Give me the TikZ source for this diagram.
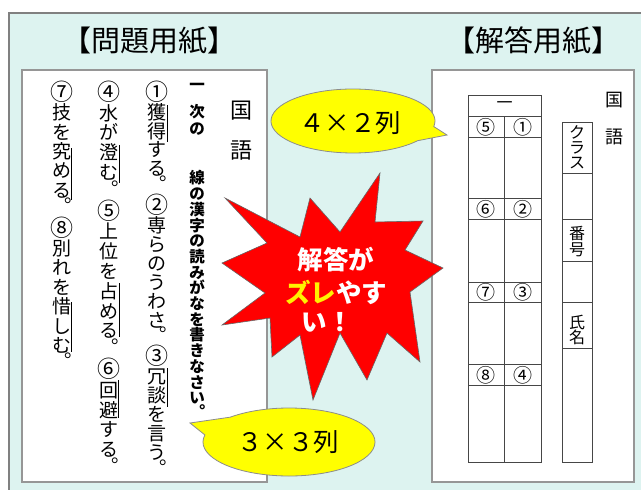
\documentclass[tikz,border=0pt]{standalone}
\usepackage{fontspec}
\setmainfont{Noto Sans CJK JP}
\definecolor{bgc}{RGB}{221,243,240}
\definecolor{framec}{RGB}{128,128,128}
\definecolor{paperc}{RGB}{150,150,150}
\definecolor{gridc}{RGB}{70,70,70}
\definecolor{starred}{RGB}{255,0,0}
\definecolor{calloutc}{RGB}{255,255,0}
\newcommand\cn[1]{{\fontsize{23}{23}\selectfont #1}}
\newcommand\vertcol[6]{%
  \foreach \c [count=\i from 0] in {#6}{%
    \def\tmpk{。}%
    \ifx\c\tmpk
      \node[#5,kuten#5] (#1\i) at (#2,{#3+\i*#4}) {\c};
    \else
      \node[#5] (#1\i) at (#2,{#3+\i*#4}) {\c};
    \fi}}
\begin{document}
\begin{tikzpicture}[x=1pt,y=-1pt,
  jaA/.style={inner sep=0pt,anchor=base,yshift=-7.2pt,font=\fontsize{19}{20}\selectfont},
  kutenjaA/.style={xshift=12pt,yshift=14pt},
  jaB/.style={inner sep=0pt,anchor=base,yshift=-5.9pt,font=\fontsize{15.5}{16}\selectfont\bfseries},
  kutenjaB/.style={xshift=10pt,yshift=11pt},
  jaC/.style={inner sep=0pt,anchor=base,yshift=-6pt,font=\fontsize{16}{17}\selectfont},
  kutenjaC/.style={},
  title/.style={inner sep=0pt,font=\fontsize{29}{30}\selectfont},
  kokugo/.style={inner sep=0pt,anchor=base,yshift=-8.4pt,font=\fontsize{22}{24}\selectfont},
  kokugoR/.style={inner sep=0pt,anchor=base,yshift=-6.8pt,font=\fontsize{18}{19}\selectfont},
  paper/.style={fill=white,draw=paperc,line width=1.2pt},
  gridline/.style={draw=gridc,line width=0.8pt},
  sideline/.style={draw=black,line width=0.8pt},
  callout/.style={fill=calloutc,draw=black!45,line width=0.8pt},
  calltext/.style={inner sep=0pt,font=\fontsize{25.5}{27}\selectfont},
  startext/.style={inner sep=0pt,font=\fontsize{25.5}{27}\selectfont\bfseries,text=white},
  num/.style={inner sep=0pt,font=\fontsize{19}{20}\selectfont},
  head/.style={inner sep=0pt,font=\fontsize{16}{17}\selectfont}]
\useasboundingbox (0,0) rectangle (641,490);
\clip (0,0) rectangle (641,490);
% background frame
\fill[bgc] (9,13) rectangle (660,500);
\draw[framec,line width=1.6pt] (9,500) -- (9,13) -- (660,13);
% titles
\node[title] (t1) at (150,41) {【問題用紙】};
\node[title] (t2) at (533,41) {【解答用紙】};
% left paper
\draw[paper] (22,70) rectangle (267,482);
\node[kokugo] (k1) at (241,110) {国};
\node[kokugo] (k2) at (241,150) {語};
\node[jaB] (q0a) at (197,85) {一};
\node[jaB] (q0b) at (197,112) {次};
\node[jaB] (q0c) at (197,129) {の};
\vertcol{q0-}{197}{178}{15.7}{jaB}{線,の,漢,字,の,読,み,が,な,を,書,き,な,さ,い,。}
\vertcol{q1-}{157}{93}{18.9}{jaA}{\cn{①},獲,得,す,る,。,\cn{②},専,ら,の,う,わ,さ,。,\cn{③},冗,談,を,言,う,。}
\vertcol{q2-}{109}{93}{19.8}{jaA}{\cn{④},水,が,澄,む,。,\cn{⑤},上,位,を,占,め,る,。,\cn{⑥},回,避,す,る,。}
\vertcol{q3-}{62}{93}{19.4}{jaA}{\cn{⑦},技,を,究,め,る,。,\cn{⑧},別,れ,を,惜,し,む,。}
% side lines
\draw[sideline] (167.5,105) -- (167.5,142);
\draw[sideline] (167.5,368) -- (167.5,407);
\draw[sideline] (119.5,145) -- (119.5,183);
\draw[sideline] (119.5,283) -- (119.5,337);
\draw[sideline] (118.5,380) -- (118.5,418);
\draw[sideline] (71,148) -- (71,200);
\draw[sideline] (71,302) -- (71,352);
% right paper
\draw[paper] (432,70) rectangle (634,482);
\node[kokugoR] (r1) at (614,100) {国};
\node[kokugoR] (r2) at (614,137) {語};
% answer grid
\draw[gridline] (468,95) rectangle (541,462);
\foreach \yy in {116,137,198,219,282,302,364,385}{\draw[gridline] (468,\yy) -- (541,\yy);}
\draw[gridline] (504,116) -- (504,462);
\node[head] (h0) at (504.5,105.5) {一};
\node[num] (a1) at (522.5,127) {①};
\node[num] (a5) at (486,127) {⑤};
\node[num] (a2) at (522.5,209) {②};
\node[num] (a6) at (486,209) {⑥};
\node[num] (a3) at (522.5,292.5) {③};
\node[num] (a7) at (486,292.5) {⑦};
\node[num] (a4) at (522.5,375) {④};
\node[num] (a8) at (486,375) {⑧};
% name column
\draw[gridline] (562,122) rectangle (592,462);
\foreach \yy in {173,219,261,302,348}{\draw[gridline] (562,\yy) -- (592,\yy);}
\vertcol{n1-}{577}{132}{15}{jaC}{ク,ラ,ス}
\vertcol{n2-}{577}{233}{16}{jaC}{番,号}
\vertcol{n3-}{577}{322}{15.5}{jaC}{氏,名}
% starburst
\draw[fill=starred,draw=black!60,line width=0.6pt,line join=miter]
  (380,173) -- (375,222) -- (423,221) -- (405,250) -- (443,268) -- (410,292)
  -- (420,362) -- (387,333) -- (367,380) -- (340,333) -- (313,400) -- (300,335)
  -- (272,357) -- (270,318) -- (222,325) -- (265,293) -- (222,263) -- (267,243)
  -- (225,198) -- (300,237) -- (310,198) -- (340,232) -- cycle;
\node[startext] (s1) at (336,260) {解答が};
\node[startext] (s2) at (336,292) {\textcolor{yellow}{ズレ}やす};
\node[startext] (s3) at (327,322) {い！};
% callouts
\draw[callout] (447,135) -- ([shift={(10:82 and 32)}]353,121)
  arc[start angle=10,end angle=-322,x radius=82,y radius=32] -- cycle;
\node[calltext] (c1) at (350,123) {４×２列};
\draw[callout] (190,423) -- ([shift={(-168:86 and 34)}]289,442)
  arc[start angle=-168,end angle=-493,x radius=86,y radius=34] -- cycle;
\node[calltext] (c2) at (288,442) {３×３列};
\end{tikzpicture}
\end{document}
